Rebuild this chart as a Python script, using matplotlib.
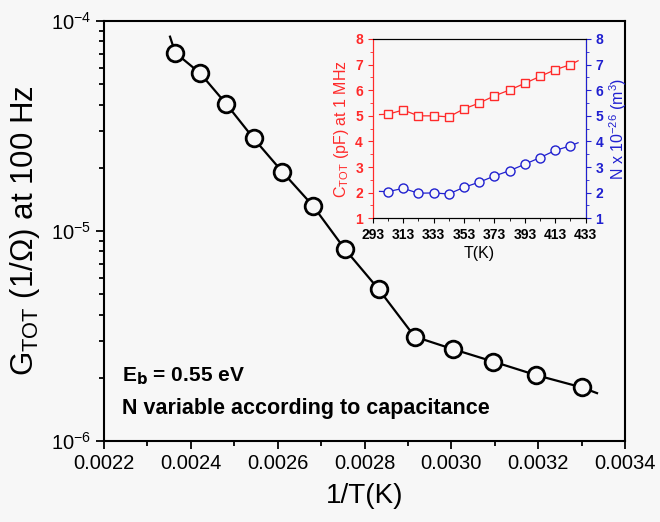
import numpy as np
import matplotlib
matplotlib.use('Agg')
import matplotlib.pyplot as plt
from matplotlib.ticker import MultipleLocator, LogLocator

plt.rcParams['font.family'] = ['Liberation Sans', 'DejaVu Sans']
plt.rcParams['mathtext.fontset'] = 'custom'
plt.rcParams['mathtext.rm'] = 'Liberation Sans'

# temperatures (K)
T = [303, 313, 323, 333, 343, 353, 363, 373, 383, 393, 403, 413, 423]
# conductance at 100 Hz (1/Ohm)
G = [1.80e-6, 2.06e-6, 2.39e-6, 2.74e-6, 3.14e-6, 5.27e-6, 8.19e-6,
     1.32e-5, 1.91e-5, 2.76e-5, 4.03e-5, 5.64e-5, 7.06e-5]
# ends of the drawn curve beyond the points
G_line_x_ends = [0.0033355, 0.002352]
G_line_y_ends = [1.69e-6, 8.42e-5]

# inset: capacitance at 1 MHz (pF) and N x 1e-26 (m^-3)
cap = [5.06, 5.23, 5.00, 5.00, 4.96, 5.27, 5.50, 5.78, 6.01, 6.27, 6.54, 6.80, 7.00]
N = [2.04, 2.17, 1.98, 1.99, 1.95, 2.21, 2.41, 2.65, 2.86, 3.11, 3.37, 3.65, 3.83]
T_line_ends = [297.5, 428]
cap_line_ends = [5.05, 7.15]
N_line_ends = [2.05, 3.95]
inset_xticks = [293, 313, 333, 353, 373, 393, 413, 433]

bg = '#f7f7f7'
fig = plt.figure(figsize=(6.6, 5.22), dpi=100, facecolor=bg)
ax = fig.add_axes([0.1576, 0.1552, 0.7894, 0.8046], facecolor=bg)

invT = [1.0 / t for t in T]
line_x = [G_line_x_ends[0]] + invT + [G_line_x_ends[1]]
line_y = [G_line_y_ends[0]] + G + [G_line_y_ends[1]]
ax.plot(line_x, line_y, '-', color='black', lw=1.6, zorder=2)
ax.plot(invT, G, 'o', ms=12, mfc=bg, mec='black', mew=2, zorder=3)

ax.set_yscale('log')
ax.set_xlim(0.0022, 0.0034)
ax.set_ylim(1e-6, 1e-4)
ax.xaxis.set_major_locator(MultipleLocator(0.0002))
ax.xaxis.set_minor_locator(MultipleLocator(0.0001))
ax.xaxis.set_major_formatter(matplotlib.ticker.FormatStrFormatter('%.4f'))
ax.yaxis.set_minor_locator(LogLocator(base=10, subs=np.arange(2, 10)))
ax.tick_params(which='both', direction='out', labelsize=14.5, width=1.3, top=False, right=False)
ax.tick_params(which='major', length=6)
ax.tick_params(which='minor', length=3.5)
ax.tick_params(axis='y', which='minor', labelleft=False)
for s in ax.spines.values():
    s.set_linewidth(1.5)

ax.set_xlabel('1/T(K)', fontsize=20, labelpad=7)
ax.set_ylabel(r'G$_{\mathregular{TOT}}$ (1/$\Omega$) at 100 Hz', fontsize=22.5, labelpad=6)

ax.text(0.035, 0.155, r'E$_{\mathbf{b}}$ = 0.55 eV', transform=ax.transAxes,
        fontsize=15, fontweight='bold', va='center')
ax.text(0.035, 0.077, 'N variable according to capacitance', transform=ax.transAxes,
        fontsize=15.5, fontweight='bold', va='center')

# inset
red = '#ff2a2a'
blue = '#2020d0'
ins = fig.add_axes([0.5647, 0.5818, 0.3227, 0.3435], facecolor=bg)
T_line = [T_line_ends[0]] + T + [T_line_ends[1]]
ins.plot(T_line, [cap_line_ends[0]] + cap + [cap_line_ends[1]], '-', color=red, lw=0.9)
ins.plot(T, cap, 's', ms=6, mfc=bg, mec=red, mew=1.0)
ins.set_xlim(293, 433)
ins.set_ylim(1, 8)
ins.set_xticks(inset_xticks)
ins.set_xticks(T[::2], minor=True)
ins.yaxis.set_major_locator(MultipleLocator(1))
ins.yaxis.set_minor_locator(MultipleLocator(0.5))
ins.tick_params(which='both', direction='out', labelsize=10, top=False, right=False)
ins.tick_params(axis='y', colors=red, which='both')
ins.tick_params(which='major', length=3.5)
ins.tick_params(which='minor', length=2)
for lab in ins.get_xticklabels() + ins.get_yticklabels():
    lab.set_fontweight('bold')
ins.spines['left'].set_color(red)
ins.set_ylabel(r'C$_{\mathregular{TOT}}$ (pF) at 1 MHz', color=red, fontsize=11.5, labelpad=3)
ins.set_xlabel('T(K)', fontsize=11.5, labelpad=3)

ins2 = ins.twinx()
ins2.plot(T_line, [N_line_ends[0]] + N + [N_line_ends[1]], '-', color=blue, lw=0.9)
ins2.plot(T, N, 'o', ms=6.5, mfc=bg, mec=blue, mew=1.0)
ins2.set_ylim(1, 8)
ins2.yaxis.set_major_locator(MultipleLocator(1))
ins2.yaxis.set_minor_locator(MultipleLocator(0.5))
ins2.tick_params(axis='y', which='both', direction='out', colors=blue, labelsize=10)
ins2.tick_params(which='major', length=3.5)
ins2.tick_params(which='minor', length=2)
for lab in ins2.get_yticklabels():
    lab.set_fontweight('bold')
ins2.spines['right'].set_color(blue)
ins2.spines['left'].set_color(red)
ins2.set_ylabel(r'N x 10$^{\mathregular{-26}}$ (m$^{\mathregular{3}}$)', color=blue, fontsize=11.5, labelpad=3)

fig.savefig('out.png', dpi=100, facecolor=bg)
